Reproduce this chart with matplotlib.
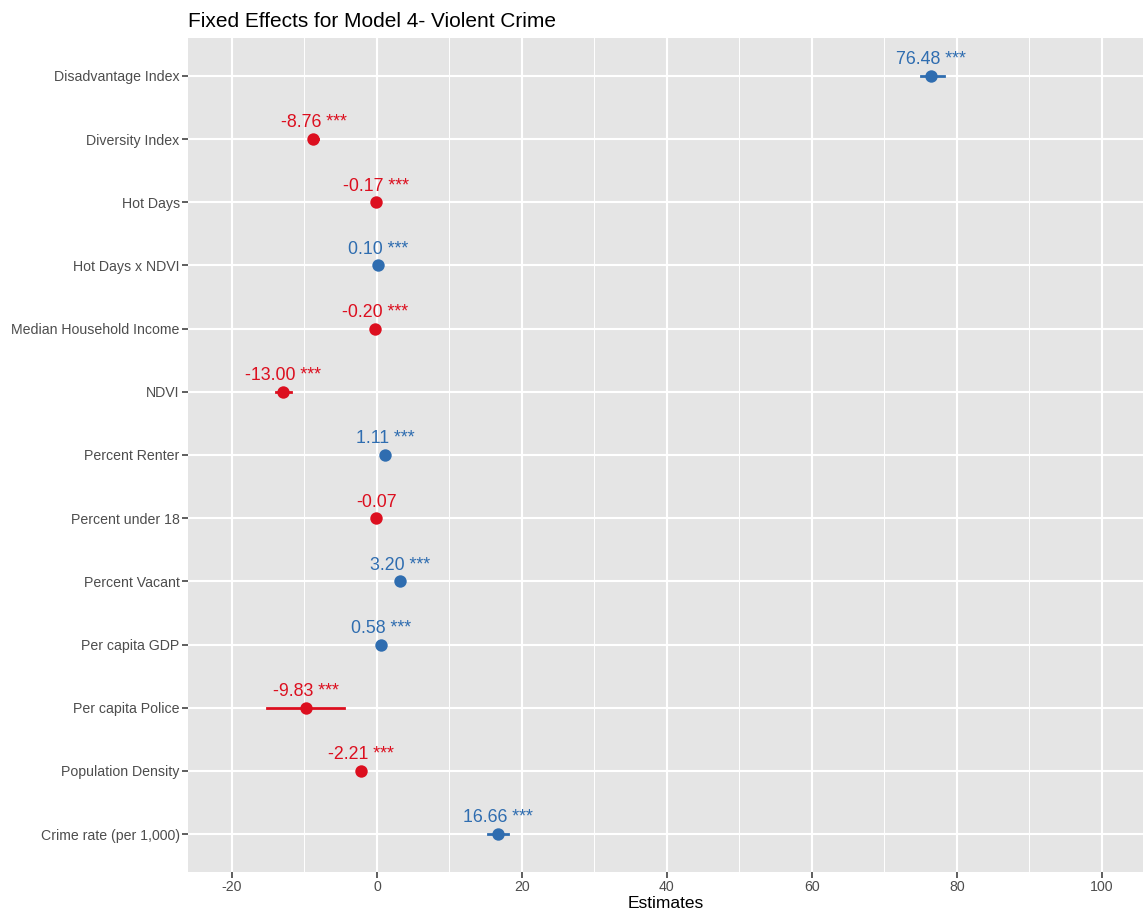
import matplotlib
matplotlib.use("Agg")
import matplotlib.pyplot as plt
import numpy as np

plt.rcParams['font.family'] = ['Liberation Sans', 'DejaVu Sans']
plt.rcParams['axes.unicode_minus'] = False

# terms, top to bottom
terms = ["Disadvantage Index", "Diversity Index", "Hot Days", "Hot Days x NDVI",
         "Median Household Income", "NDVI", "Percent Renter", "Percent under 18",
         "Percent Vacant", "Per capita GDP", "Per capita Police",
         "Population Density", "Crime rate (per 1,000)"]
estimates = [76.48, -8.76, -0.17, 0.10, -0.20, -13.00, 1.11, -0.07, 3.20, 0.58,
             -9.83, -2.21, 16.66]
ci_low = [75.0, -9.3, -0.3, 0.05, -0.35, -13.9, 0.9, -0.2, 2.9, 0.4, -15.2, -2.7, 15.3]
ci_high = [78.2, -8.2, -0.05, 0.15, -0.05, -11.9, 1.3, 0.06, 3.5, 0.75, -4.5, -1.7, 18.1]
stars = ["***", "***", "***", "***", "***", "***", "***", "", "***", "***", "***", "***", "***"]

red = "#dc0f1f"
blue = "#2f6db0"

fig = plt.figure(figsize=(11.43, 9.17), dpi=100)
ax = fig.add_axes([188 / 1143, 45 / 917, 955 / 1143, 834 / 917])
ax.set_facecolor("#e5e5e5")

y = np.arange(len(terms))[::-1]
for i in range(len(terms)):
    c = red if estimates[i] < 0 else blue
    ax.plot([ci_low[i], ci_high[i]], [y[i], y[i]], color=c, lw=2, zorder=3)
    ax.scatter(estimates[i], y[i], s=80, color=c, zorder=4, linewidths=0)
    lab = "%.2f" % estimates[i]
    if stars[i]:
        lab += " " + stars[i]
    ax.annotate(lab, (estimates[i], y[i]), xytext=(0, 5.5), textcoords="offset points",
                ha="center", va="bottom", color=c, fontsize=12.8)

ax.set_xlim(-26.07, 105.7)
ax.set_ylim(-0.6, len(terms) - 0.4)
ax.set_xticks([-20, 0, 20, 40, 60, 80, 100])
ax.set_xticks([-10, 10, 30, 50, 70, 90], minor=True)
ax.set_yticks(y)
ax.set_yticklabels(terms)
ax.grid(which="major", color="white", lw=1.5)
ax.grid(which="minor", axis="x", color="white", lw=0.7)
ax.set_axisbelow(True)
for s in ax.spines.values():
    s.set_visible(False)
ax.tick_params(which="major", length=4, width=1.1, color="#333333", labelcolor="#4d4d4d",
               labelsize=10.2, pad=2)
ax.tick_params(which="minor", length=0)
ax.set_xlabel("Estimates", fontsize=12.5, labelpad=1)
ax.set_title("Fixed Effects for Model 4- Violent Crime", loc="left", fontsize=15,
             x=-0.00, pad=8)

fig.savefig("out.png", dpi=100)
